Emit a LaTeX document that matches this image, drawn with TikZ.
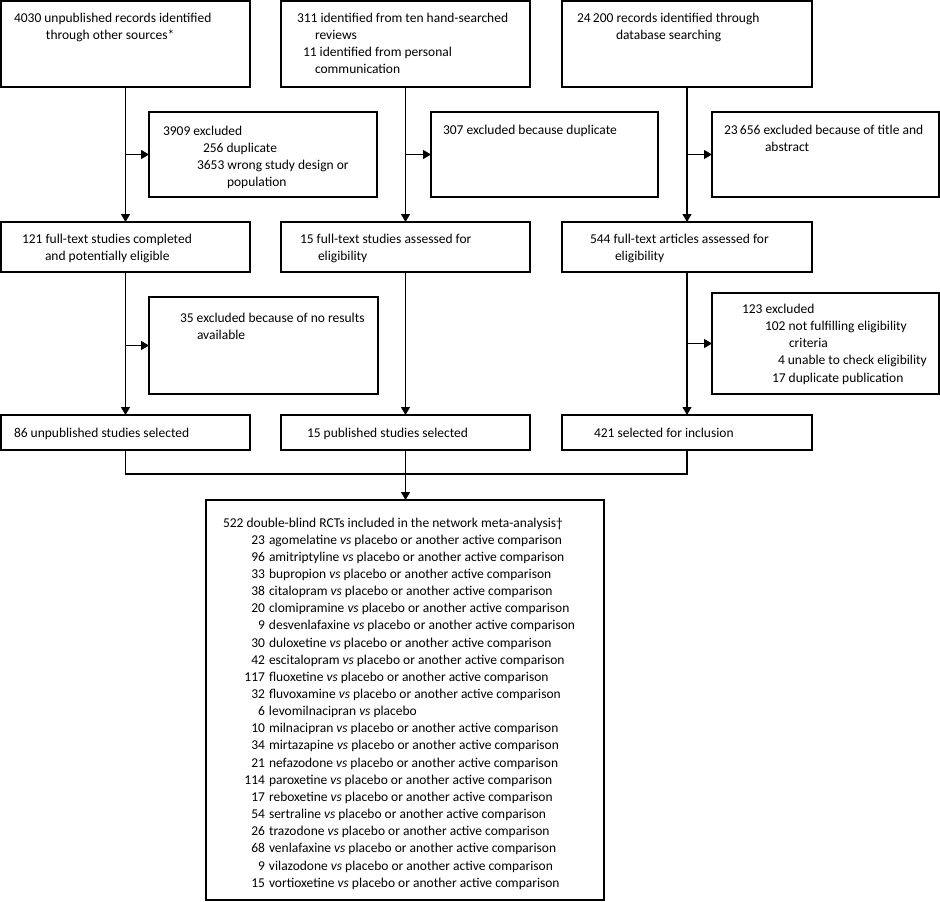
\documentclass[tikz,border=0pt]{standalone}
\usepackage{fontspec}
\setmainfont{Carlito}
\usetikzlibrary{arrows.meta,calc}
\newlength\calw
\newcommand\fl{\rule{0pt}{12pt}}
\newcommand\drg[2]{\\\makebox[42pt][r]{#1}\hspace{4pt}#2 \textit{vs} placebo or another active comparison}
\begin{document}
\settowidth\calw{\fontsize{10}{12}\selectfont 522 double-blind RCTs included in the network meta-analysis\textdagger}%
\pgfmathsetmacro\fsz{10*340/\calw}%
\begin{tikzpicture}[x=1pt,y=-1pt,
  box/.style={draw, line width=1.1pt, inner sep=0pt, outer sep=0pt, anchor=north west},
  txt/.style={inner sep=0pt, outer sep=0pt, anchor=north west, align=left,
    font=\fontsize{\fsz}{17.3}\selectfont},
  arr/.style={line width=1.1pt, -{Triangle[width=9pt,length=8pt]}},
  ln/.style={line width=1.1pt}]
\useasboundingbox (0,0) rectangle (940,902);
% top row
\node[box, minimum width=249pt, minimum height=86pt] (A) at (1,1) {};
\node[box, minimum width=249pt, minimum height=86pt] (B) at (281,1) {};
\node[box, minimum width=250pt, minimum height=86pt] (C) at (562,1) {};
% exclusion row 1
\node[box, minimum width=228pt, minimum height=85pt] (E1) at (149,112) {};
\node[box, minimum width=227pt, minimum height=85pt] (E2) at (431,112) {};
\node[box, minimum width=227pt, minimum height=85pt] (E3) at (712,112) {};
% row 2
\node[box, minimum width=249pt, minimum height=50pt] (D1) at (1,222) {};
\node[box, minimum width=249pt, minimum height=50pt] (D2) at (281,222) {};
\node[box, minimum width=250pt, minimum height=50pt] (D3) at (562,222) {};
% exclusion row 2
\node[box, minimum width=229pt, minimum height=97pt] (F1) at (149,297) {};
\node[box, minimum width=227pt, minimum height=101pt] (F3) at (712,293) {};
% row 3
\node[box, minimum width=249pt, minimum height=35pt] (G1) at (1,415) {};
\node[box, minimum width=249pt, minimum height=35pt] (G2) at (281,415) {};
\node[box, minimum width=250pt, minimum height=35pt] (G3) at (562,415) {};
% final
\node[box, minimum width=398pt, minimum height=400pt] (H) at (206,500) {};

% texts
\node[txt] (At) at (14,10) {\fl 4030 unpublished records identified\\\hspace*{32pt}through other sources*};
\node[txt] (Bt) at (297,10) {\fl 311 identified from ten hand-searched\\\hspace*{18pt}reviews\\\hspace*{6pt}11 identified from personal\\\hspace*{18pt}communication};
\node[txt] (Ct) at (577,10) {\fl 24\,200 records identified through\\\hspace*{39pt}database searching};
\node[txt] (E1t) at (163,123) {\fl 3909 excluded\\\hspace*{40pt}256 duplicate\\\hspace*{34pt}3653 wrong study design or\\\hspace*{64pt}population};
\node[txt] (E2t) at (443,122) {\fl 307 excluded because duplicate};
\node[txt] (E3t) at (724,122) {\fl 23\,656 excluded because of title and\\\hspace*{41pt}abstract};
\node[txt] (D1t) at (22,231) {\fl 121 full-text studies completed\\\hspace*{23pt}and potentially eligible};
\node[txt] (D2t) at (300,231) {\fl 15 full-text studies assessed for\\\hspace*{18pt}eligibility};
\node[txt] (D3t) at (590,231) {\fl 544 full-text articles assessed for\\\hspace*{25pt}eligibility};
\node[txt] (F1t) at (180,310) {\fl 35 excluded because of no results\\\hspace*{17pt}available};
\node[txt] (F3t) at (742,301) {\fl 123 excluded\\\hspace*{23pt}102 not fulfilling eligibility\\\hspace*{47pt}criteria\\\hspace*{36pt}4 unable to check eligibility\\\hspace*{30pt}17 duplicate publication};
\node[txt] (G1t) at (14,425) {\fl 86 unpublished studies selected};
\node[txt] (G2t) at (307,425) {\fl 15 published studies selected};
\node[txt] (G3t) at (594,425) {\fl 421 selected for inclusion};
\node[txt, font=\fontsize{\fsz}{17.15}\selectfont] (Ht) at (223,515) {\fl 522 double-blind RCTs included in the network meta-analysis\textdagger
\drg{23}{agomelatine}\drg{96}{amitriptyline}\drg{33}{bupropion}\drg{38}{citalopram}%
\drg{20}{clomipramine}\drg{9}{desvenlafaxine}\drg{30}{duloxetine}\drg{42}{escitalopram}%
\drg{117}{fluoxetine}\drg{32}{fluvoxamine}%
\\\makebox[42pt][r]{6}\hspace{4pt}levomilnacipran \textit{vs} placebo%
\drg{10}{milnacipran}\drg{34}{mirtazapine}\drg{21}{nefazodone}\drg{114}{paroxetine}%
\drg{17}{reboxetine}\drg{54}{sertraline}\drg{26}{trazodone}\drg{68}{venlafaxine}%
\drg{9}{vilazodone}\drg{15}{vortioxetine}};

% connectors
\draw[arr] (A.south) -- (D1.north);
\draw[arr] (B.south) -- (D2.north);
\draw[arr] (C.south) -- (D3.north);
\draw[arr] (A.south |- E1.west) -- (E1.west);
\draw[arr] (B.south |- E2.west) -- (E2.west);
\draw[arr] (C.south |- E3.west) -- (E3.west);
\draw[arr] (D1.south) -- (G1.north);
\draw[arr] (D2.south) -- (G2.north);
\draw[arr] (D3.south) -- (G3.north);
\draw[arr] (D1.south |- F1.west) -- (F1.west);
\draw[arr] (D3.south |- F3.west) -- (F3.west);
\coordinate (J1) at ($(G1.south)+(0,24)$);
\draw[ln] (G1.south) -- (J1) -| (G3.south);
\draw[arr] (G2.south) -- (G2.south |- H.north);
\end{tikzpicture}
\end{document}
